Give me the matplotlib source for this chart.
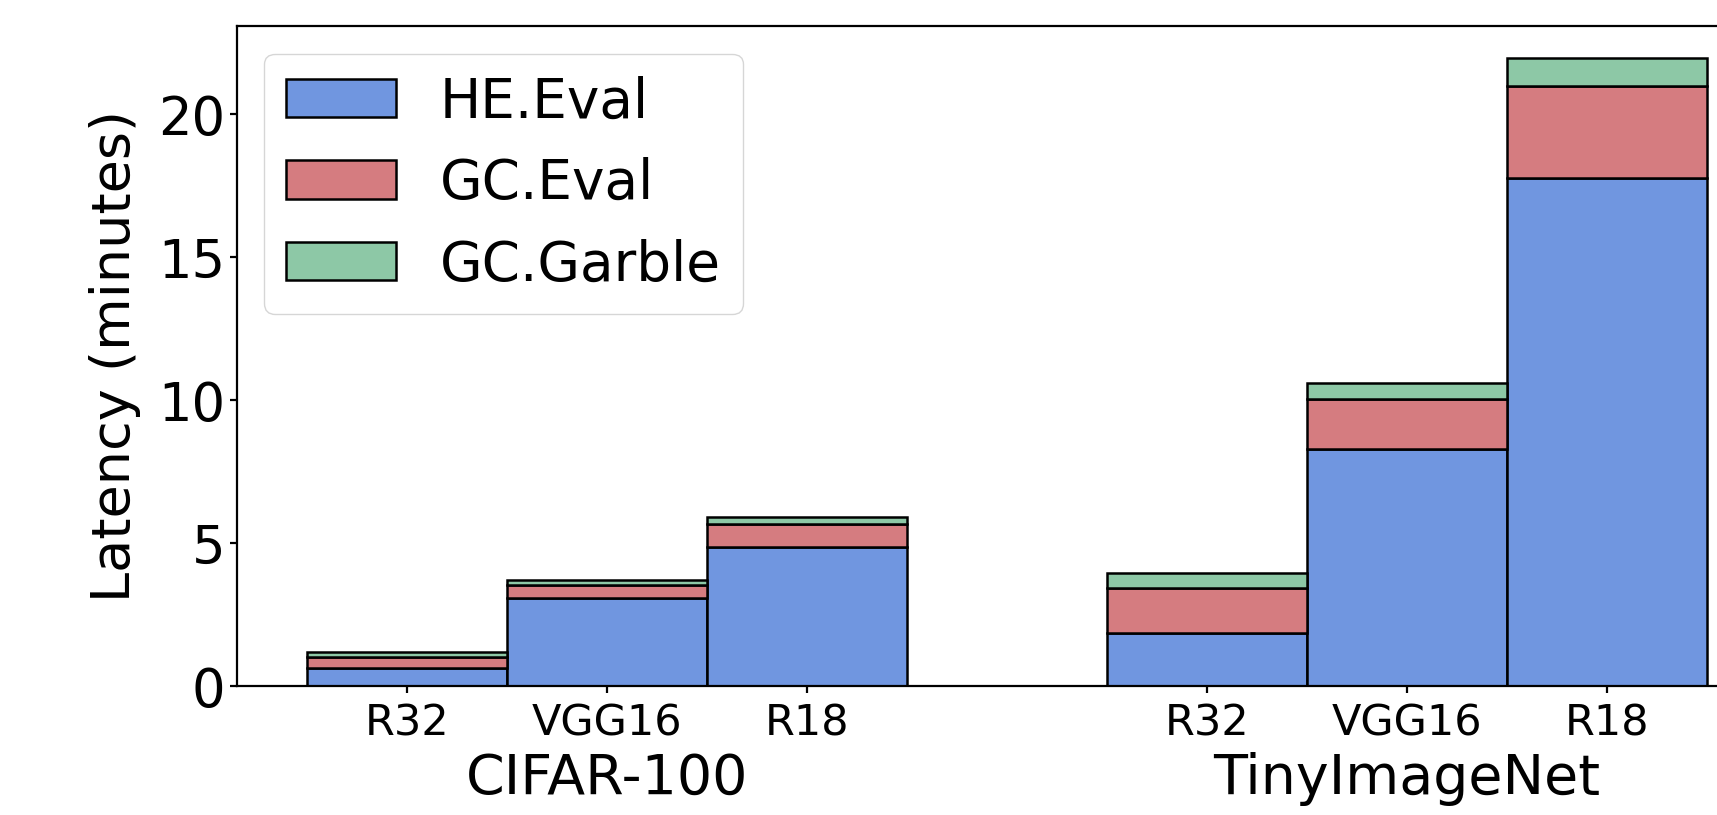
import numpy as np
import matplotlib
matplotlib.use("Agg")
import matplotlib.pyplot as plt
from matplotlib import transforms

# latency breakdown (minutes)
datasets = ["CIFAR-100", "TinyImageNet"]
models = ["R32", "VGG16", "R18"]
he_eval = [0.65, 3.10, 4.87, 1.86, 8.28, 17.78]
gc_eval = [0.36, 0.43, 0.79, 1.59, 1.77, 3.20]
gc_garble = [0.19, 0.18, 0.26, 0.51, 0.55, 1.00]

series = [("HE.Eval", he_eval, "#7096e0"),
          ("GC.Eval", gc_eval, "#d57c80"),
          ("GC.Garble", gc_garble, "#8dc8a6")]

# 3 bars per dataset, one empty slot between groups
x = np.array([g * (len(models) + 1) + i for g in range(len(datasets)) for i in range(len(models))])

fig = plt.figure(figsize=(17.17, 8.15), dpi=100)
ax = fig.add_axes([0.138, 0.158, 0.897, 0.810])

bottom = np.zeros(len(x))
for name, vals, col in series:
    vals = np.array(vals)
    ax.bar(x, vals, width=1.0, bottom=bottom, color=col, edgecolor="black",
           linewidth=1.8, label=name)
    bottom += vals

ax.set_xticks(x)
ax.set_xticklabels(models * len(datasets), fontsize=31)
ax.tick_params(axis="y", labelsize=38, length=5, width=1.6)
ax.tick_params(axis="x", length=5, width=1.6, pad=7)
ax.set_yticks([0, 5, 10, 15, 20])
for s in ax.spines.values():
    s.set_linewidth(1.6)
ax.set_ylabel("Latency (minutes)", fontsize=39, labelpad=12)

trans = transforms.blended_transform_factory(ax.transData, ax.transAxes)
for g, name in enumerate(datasets):
    cx = x[g * len(models):(g + 1) * len(models)].mean()
    ax.text(cx, -0.1, name, transform=trans, ha="center", va="top", fontsize=40)

ax.legend(loc="upper left", fontsize=39.5)

fig.savefig("out.png", dpi=100)
